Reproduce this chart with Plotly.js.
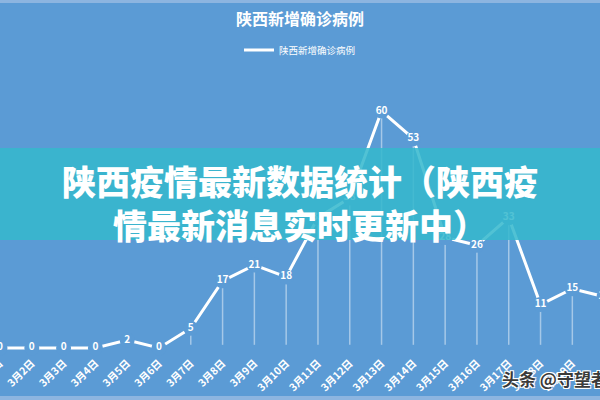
<!DOCTYPE html>
<html><head><meta charset="utf-8">
<script src="https://cdn.plot.ly/plotly-3.0.1.min.js"></script>
<style>html,body{margin:0;padding:0;background:#5b9bd5;}#c{width:600px;height:400px;}</style>
</head><body><div id="c"></div>
<script>
var dates = ["3月1日","3月2日","3月3日","3月4日","3月5日","3月6日","3月7日","3月8日","3月9日","3月10日",
             "3月11日","3月12日","3月13日","3月14日","3月15日","3月16日","3月17日","3月18日","3月19日","3月20日"];
var cases = [0,0,0,0,2,0,5,17,21,18,33,38,60,53,28,26,33,11,15,13];
var seriesName = "陕西新增确诊病例";
var chartTitle = "陕西新增确诊病例";
var bannerText = "陕西疫情最新数据统计（陕西疫<br>情最新消息实时更新中）";
var watermark = "头条 @守望者说";

var bg = "#5b9bd5";
var cjk = "Noto Sans CJK SC, sans-serif";

var lineTrace = {
  x: dates, y: cases, type: "scatter", mode: "lines", name: seriesName,
  line: {color: "#ffffff", width: 3}, showlegend: true, hoverinfo: "skip",
  error_y: {type: "data", symmetric: false, array: cases.map(function(){return 0;}),
            arrayminus: cases.map(function(v){return Math.max(v - 0.8, 0);}),
            color: "rgba(255,255,255,0.45)", thickness: 1.5, width: 0}
};
var labelTrace = {
  x: dates, y: cases, type: "scatter", mode: "markers+text", showlegend: false,
  marker: {color: bg, size: 15, line: {width: 0}},
  text: cases.map(String), textposition: "middle center",
  textfont: {color: "#ffffff", size: 10, family: cjk, weight: "bold"},
  cliponaxis: true, hoverinfo: "skip"
};

var layout = {
  width: 600, height: 400,
  paper_bgcolor: bg, plot_bgcolor: bg,
  margin: {l: 0, r: 0, t: 80, b: 40},
  title: {text: chartTitle, x: 0.5, xanchor: "center", yref: "container", y: 1 - 19/400, yanchor: "middle",
          font: {color: "#ffffff", size: 16, family: cjk, weight: "bold"}},
  showlegend: true,
  legend: {orientation: "h", x: 0.5, xanchor: "center", yref: "container", y: 1 - 50/400, yanchor: "middle",
           font: {color: "#ffffff", size: 9.5, family: cjk}, itemwidth: 30, bgcolor: "rgba(0,0,0,0)"},
  xaxis: {type: "category", range: [0, 18.87], showgrid: false, zeroline: false, showline: false,
          ticks: "", tickangle: -45, ticklabelstandoff: -6,
          tickfont: {color: "#ffffff", size: 10.5, family: cjk, weight: "bold"},
          fixedrange: true},
  yaxis: {range: [-3.04, 67.85], showgrid: false, zeroline: false, showline: false, showticklabels: false,
          ticks: "", fixedrange: true},
  shapes: [
    {type: "rect", xref: "paper", yref: "paper", x0: -0.1, x1: 1.1, y0: (400-240-40)/280, y1: (400-148-40)/280,
     fillcolor: "rgba(52,184,205,0.86)", line: {width: 0}, layer: "above"},
    {type: "rect", xref: "paper", yref: "paper", x0: -0.1, x1: 1.1, y0: (400-3-40)/280, y1: (400-40)/280 + 0.01,
     fillcolor: "#8db5e0", line: {width: 0}, layer: "above"},
    {type: "rect", xref: "paper", yref: "paper", x0: -0.1, x1: 1.1, y0: -40/280 - 0.01, y1: (400-396-40)/280,
     fillcolor: "#8db5e0", line: {width: 0}, layer: "above"}
  ],
  annotations: [
    {text: bannerText, xref: "paper", yref: "paper", x: 0.5, xanchor: "center",
     y: (400-202-40)/280, yanchor: "middle", showarrow: false, align: "center",
     font: {color: "#ffffff", size: 34, family: cjk, weight: 900}},
    {text: watermark, xref: "paper", yref: "paper", x: 500/600, xanchor: "left",
     y: (400-378-40)/280, yanchor: "middle", showarrow: false, align: "left",
     font: {color: "#3a3a3a", size: 17, family: cjk, weight: "bold",
            shadow: "1px 1px 0 #fff, -1px -1px 0 #fff, 1px -1px 0 #fff, -1px 1px 0 #fff"}}
  ]
};
Plotly.newPlot("c", [lineTrace, labelTrace], layout, {displayModeBar: false, staticPlot: true});
</script></body></html>
